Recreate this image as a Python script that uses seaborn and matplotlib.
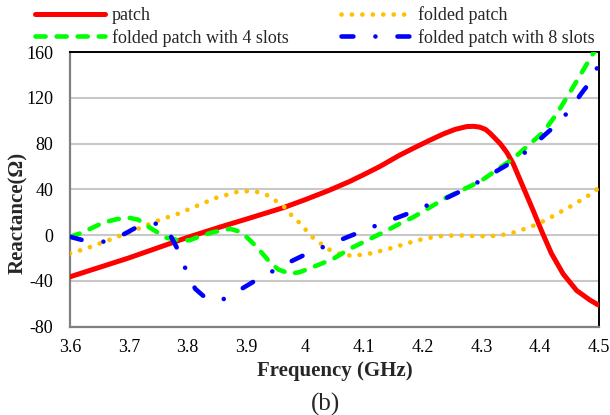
import matplotlib
matplotlib.use("Agg")
import matplotlib.pyplot as plt
import seaborn as sns
import pandas as pd

# Reactance of the four antenna variants versus frequency (GHz, Ohm)
patch_f = [3.60, 3.70, 3.80, 3.855, 3.90, 3.963, 4.00, 4.04, 4.076, 4.10, 4.127, 4.161,
           4.19, 4.212, 4.235, 4.255, 4.275, 4.287, 4.297, 4.307, 4.315, 4.332, 4.343,
           4.354, 4.371, 4.388, 4.402, 4.419, 4.439, 4.462, 4.485, 4.50]
patch_x = [-36.5, -20, -2, 7, 14, 24, 31, 39, 47, 53, 60, 70,
           77.5, 83, 88.5, 92.5, 95, 95.2, 94.5, 92.5, 89, 80, 72.5,
           62.5, 42, 21.5, 4, -16, -34, -48.5, -57, -61.5]

folded_f = [3.60, 3.617, 3.634, 3.668, 3.716, 3.75, 3.784, 3.82, 3.849, 3.883, 3.903,
            3.92, 3.937, 3.951, 3.966, 3.977, 3.991, 4.003, 4.015, 4.031, 4.045,
            4.062, 4.079, 4.097, 4.114, 4.132, 4.149, 4.166, 4.183, 4.20, 4.218,
            4.235, 4.253, 4.271, 4.289, 4.307, 4.325, 4.343, 4.36, 4.377, 4.394,
            4.41, 4.426, 4.441, 4.457, 4.472, 4.487, 4.50]
folded_x = [-16, -13.4, -10.5, -4, 5.6, 12.8, 18.7, 26.5, 32.7, 37.6, 38.5,
            37.6, 34.7, 29.7, 24, 17.2, 10.5, 3.5, -3.2, -9, -14,
            -17, -18, -17.2, -15.8, -13.4, -11, -8.4, -5.8, -3.5, -1.8,
            -0.6, -0.3, -0.3, -0.9, -1, -0.6, 0.8, 2.9, 6.1, 9.3,
            13.4, 17.8, 22.2, 26.6, 31.5, 36.2, 41.5]

slots4_f = [3.60, 3.62, 3.657, 3.68, 3.702, 3.716, 3.739, 3.764, 3.785, 3.804, 3.821,
            3.844, 3.872, 3.892, 3.918, 3.94, 3.954, 3.974, 3.991, 4.02, 4.048,
            4.076, 4.105, 4.139, 4.161, 4.184, 4.241, 4.298, 4.354, 4.383, 4.405,
            4.428, 4.456, 4.49, 4.50]
slots4_x = [-1.5, 2, 11, 14, 15, 13.5, 5.5, -2.3, -4.5, -4.5, -1,
            2.6, 5.5, 2.6, -10.5, -23.7, -30, -33.8, -32.4, -26.6, -20.7,
            -12, -4.7, 4, 10, 15.7, 33, 47, 67, 80, 90,
            106, 129.6, 159, 166]

slots8_f = [3.60, 3.626, 3.66, 3.691, 3.716, 3.745, 3.755, 3.765, 3.773, 3.787, 3.798,
            3.813, 3.833, 3.85, 3.864, 3.892, 3.918, 3.947, 3.976, 4.003, 4.034,
            4.065, 4.09, 4.124, 4.157, 4.181, 4.212, 4.244, 4.269, 4.30, 4.329,
            4.354, 4.381, 4.405, 4.427, 4.449, 4.47, 4.487, 4.50]
slots8_x = [-1.5, -5, -5.8, 0.6, 7.6, 10, 10, 4, -2.3, -16.3, -31.6,
            -47, -56, -57, -55.7, -47, -39, -31, -23, -16.3, -9.7,
            -3.2, 2, 9, 15.3, 20, 27, 33.3, 39.5, 48, 57,
            64.5, 75, 86.4, 96.5, 108.6, 124, 135.5, 150]

labels = ["patch", "folded patch", "folded patch with 4 slots",
          "folded patch with 8 slots"]
x_ticks = [3.6, 3.7, 3.8, 3.9, 4.0, 4.1, 4.2, 4.3, 4.4, 4.5]
x_tick_labels = ["3.6", "3.7", "3.8", "3.9", "4", "4.1", "4.2", "4.3", "4.4", "4.5"]
y_ticks = [-80, -40, 0, 40, 80, 120, 160]

sns.set_theme(style="white")
plt.rcParams["font.family"] = ["Liberation Serif", "DejaVu Serif"]
plt.rcParams["axes.unicode_minus"] = False

fig = plt.figure(figsize=(6.1, 4.15), dpi=100)
ax = fig.add_axes([70 / 610, 1 - 326.5 / 415, 529 / 610, 274.2 / 415])

styles = [
    dict(color="#FF0000", lw=3.6, linestyle="-", solid_capstyle="round",
         solid_joinstyle="round"),
    dict(color="#FFC000", lw=3.4, linestyle=(0, (0.01, 2.2)), dash_capstyle="round"),
    dict(color="#00FF00", lw=3.3, linestyle=(0, (2.2, 2.4)), dash_capstyle="round"),
    dict(color="#0000FF", lw=3.3, linestyle=(0, (2.6, 4.8, 0.01, 4.8)),
         dash_capstyle="round"),
]
series = [(patch_f, patch_x), (folded_f, folded_x), (slots4_f, slots4_x), (slots8_f, slots8_x)]

for (f, x), lab, st in zip(series, labels, styles):
    df = pd.DataFrame({"Frequency": f, "Reactance": x})
    sns.lineplot(data=df, x="Frequency", y="Reactance", ax=ax, label=lab,
                 errorbar=None, zorder=3, **st)

ax.set_xlim(3.6, 4.5)
ax.set_ylim(-80, 160)
ax.set_xticks(x_ticks)
ax.set_xticklabels(x_tick_labels)
ax.set_yticks(y_ticks)
ax.yaxis.grid(True, color="#C8C8C8", lw=1.5, zorder=0)
ax.xaxis.grid(False)
ax.set_axisbelow(True)
ax.tick_params(axis="both", length=0, labelsize=13, colors="black")
ax.tick_params(axis="y", pad=12)
ax.tick_params(axis="x", pad=9)

for side in ("left", "bottom"):
    ax.spines[side].set_color("#808080")
    ax.spines[side].set_linewidth(1.6)
for side in ("top", "right"):
    ax.spines[side].set_color("black")
    ax.spines[side].set_linewidth(1.4)

ax.set_xlabel("Frequency (GHz)", fontsize=15, fontweight="bold", va="center")
ax.set_ylabel("Reactance(Ω)", fontsize=15, fontweight="bold", va="center")
ax.xaxis.set_label_coords(0.5, (326.5 - 371) / 274.2)
ax.yaxis.set_label_coords((18 - 70) / 529, (326.5 - 213) / 274.2)

# legend entries read row by row: patch / folded patch, then the slotted variants
handles, names = ax.get_legend_handles_labels()
order = [0, 2, 1, 3]
ax.legend([handles[i] for i in order], [names[i] for i in order],
          loc="upper left", bbox_to_anchor=(35 / 610, 1 - 6 / 415),
          bbox_transform=fig.transFigure, ncol=2, frameon=False, fontsize=13,
          handlelength=3.9, handletextpad=0.35, columnspacing=2.9,
          labelspacing=0.28, borderpad=0, borderaxespad=0)

fig.text(325 / 610, 1 - 404 / 415, "(b)", ha="center", va="center", fontsize=18)

fig.savefig("out.png", dpi=100)
